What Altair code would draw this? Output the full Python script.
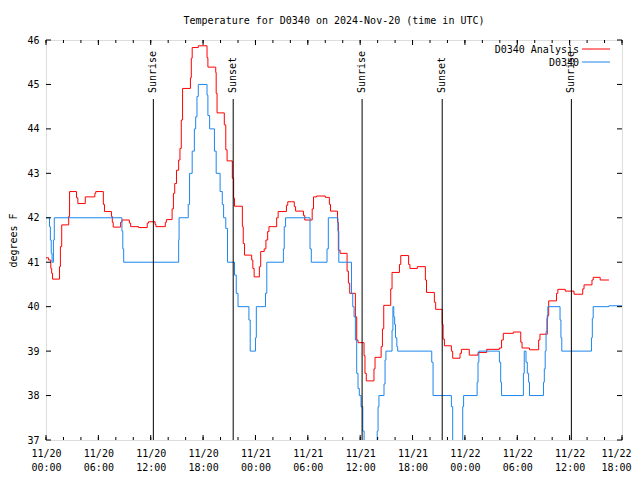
import altair as alt
import pandas as pd

# ---- data (hours after 2024-11-20 00:00 UTC, step values) ----
red_hours = [0.0, 0.3, 0.55, 0.65, 0.75, 1.55, 1.65, 1.8, 2.6, 2.7, 3.5, 3.65, 4.5, 5.6, 5.7,
             6.57, 6.7, 7.5, 7.6, 7.7, 8.55, 8.7, 9.55, 9.7, 10.6, 11.6, 11.75, 12.5, 12.6,
             13.67, 13.8, 14.45, 14.6, 14.75, 14.95, 15.2, 15.35, 15.5, 15.65, 16.55, 16.65,
             16.75, 17.45, 18.45, 18.55, 19.45, 19.5, 19.6, 20.43, 20.6, 20.75, 21.35, 21.5,
             21.6, 22.5, 22.6, 22.75, 23.57, 23.7, 23.85, 24.45, 24.6, 25.0, 25.2, 25.4, 25.55,
             26.43, 26.6, 27.55, 27.7, 28.45, 28.6, 29.5, 29.65, 30.5, 30.65, 31.0, 32.0, 32.47,
             32.6, 33.4, 33.5, 33.7, 34.5, 34.65, 34.8, 35.45, 35.6, 35.75, 36.44, 36.55, 36.7,
             37.58, 37.7, 38.4, 38.55, 38.7, 39.5, 39.65, 40.5, 40.65, 41.55, 41.7, 42.55, 43.47,
             43.6, 44.5, 44.65, 45.4, 45.5, 45.65, 46.45, 46.6, 47.44, 47.6, 48.5, 49.5, 50.5,
             51.95, 52.2, 52.4, 53.55, 54.4, 54.55, 55.4, 56.45, 56.6, 57.44, 57.6, 58.5, 58.65,
             59.5, 60.5, 61.5, 61.65, 62.56, 62.7, 63.5, 64.5]
red_temps = [41.1, 41.05, 40.86, 40.75, 40.62, 40.9, 41.35, 41.84, 42.03, 42.59, 42.45, 42.32,
             42.47, 42.55, 42.59, 42.3, 42.14, 42.03, 41.9, 41.79, 41.9, 41.95, 41.88, 41.8,
             41.78, 41.88, 41.91, 41.85, 41.8, 41.9, 41.96, 42.2, 42.55, 42.77, 43.07, 43.3,
             43.56, 44.2, 44.91, 45.15, 45.59, 45.83, 45.87, 45.6, 45.39, 45.27, 44.8, 44.36,
             44.09, 43.53, 43.28, 42.89, 42.44, 42.26, 41.8, 41.42, 41.16, 41.05, 40.86, 40.67,
             40.9, 41.24, 41.3, 41.5, 41.69, 41.8, 42.0, 42.14, 42.28, 42.36, 42.25, 42.15,
             42.05, 41.95, 42.2, 42.47, 42.49, 42.46, 42.3, 42.15, 41.9, 41.27, 41.2, 40.8,
             40.53, 40.3, 39.77, 39.25, 39.19, 38.9, 38.5, 38.33, 38.6, 38.86, 39.1, 39.5,
             40.03, 40.4, 40.77, 40.95, 41.15, 40.95, 40.86, 40.9, 40.6, 40.32, 40.1, 39.94,
             39.6, 39.27, 39.12, 39.0, 38.84, 38.95, 39.04, 38.91, 38.97, 39.04, 39.07, 39.25,
             39.4, 39.43, 39.2, 39.07, 39.03, 39.25, 39.38, 39.8, 40.13, 40.3, 40.39, 40.35,
             40.28, 40.4, 40.49, 40.6, 40.66, 40.6, 40.6]

blue_hours = [0.0, 0.4, 0.5, 0.6, 0.7, 0.85, 0.95, 8.7, 8.8, 8.9, 15.2, 15.25, 16.3, 16.45,
              16.75, 17.0, 17.15, 17.3, 17.45, 18.45, 18.55, 18.75, 19.3, 19.5, 19.95, 20.2,
              20.35, 20.6, 20.8, 21.6, 21.8, 22.0, 23.25, 23.4, 24.0, 24.1, 25.15, 25.3, 27.2,
              27.3, 27.45, 30.25, 30.4, 32.2, 32.35, 33.45, 33.55, 35.0, 35.15, 35.3, 35.45,
              35.6, 35.75, 35.9, 36.1, 36.3, 36.45, 37.95, 38.05, 38.15, 38.73, 38.85, 38.95,
              39.65, 39.75, 39.85, 39.95, 40.05, 40.2, 40.3, 44.2, 44.35, 46.45, 46.6, 47.75,
              47.85, 49.4, 49.5, 49.6, 51.95, 52.1, 52.2, 54.7, 54.8, 55.0, 55.15, 55.3, 55.4,
              57.0, 57.1, 57.2, 57.3, 57.4, 57.5, 58.9, 59.0, 59.1, 62.5, 62.6, 62.7, 64.5, 66.0]
blue_temps = [42.0, 41.8, 41.5, 41.2, 41.0, 41.5, 42.0, 41.7, 41.3, 41.0, 41.5, 42.0, 42.3, 43.0,
              43.5, 44.0, 44.27, 44.73, 45.0, 44.76, 44.3, 44.0, 43.5, 43.0, 42.59, 42.3, 42.0,
              41.76, 41.0, 40.71, 40.3, 40.0, 39.7, 39.0, 39.3, 40.0, 40.3, 41.0, 41.3, 41.8,
              42.0, 41.3, 41.0, 41.3, 42.0, 41.7, 41.0, 40.3, 40.0, 39.77, 39.25, 38.5, 38.16,
              38.0, 37.75, 37.2, 36.5, 37.2, 37.75, 38.0, 38.26, 38.8, 39.0, 39.47, 40.0, 39.77,
              39.6, 39.3, 39.1, 39.0, 38.75, 38.0, 37.75, 36.5, 37.75, 38.0, 38.3, 38.75, 39.0,
              38.75, 38.3, 38.0, 38.5, 39.0, 38.75, 38.5, 38.3, 38.0, 38.3, 38.6, 39.0, 39.44,
              39.74, 40.0, 39.7, 39.3, 39.0, 39.3, 39.74, 40.0, 40.02, 40.02]

event_hours = [12.3, 21.45, 36.22, 45.4, 60.2]
event_labels = ["Sunrise", "Sunset", "Sunrise", "Sunset", "Sunrise"]

series_names = ["D0340 Analysis", "D0340"]
series_colors = ["#ff0000", "#1c86ee"]

major_tick_hours = [0, 6, 12, 18, 24, 30, 36, 42, 48, 54, 60, 66]
minor_tick_hours = list(range(0, 67, 2))
y_ticks = [37, 38, 39, 40, 41, 42, 43, 44, 45, 46]

# ---- build ----
W, H = 576, 400
FONT = "DejaVu Sans Mono"
BASE = int(pd.Timestamp("2024-11-20T00:00:00Z").timestamp() * 1000)
HR = 3600000
END = BASE + 66 * HR


def ms(hs):
    return [BASE + h * HR for h in hs]


xscale = alt.Scale(type="utc", domain=[BASE, END])
yscale = alt.Scale(domain=[37, 46], nice=False, zero=False)

df_red = pd.DataFrame({"t": ms(red_hours), "temp": red_temps})
df_blue = pd.DataFrame({"t": ms(blue_hours), "temp": blue_temps})

xaxis = alt.Axis(values=ms(major_tick_hours), title=None, ticks=False, grid=False, domain=False,
                 labelExpr="[utcFormat(datum.value, '%m/%d'), utcFormat(datum.value, '%H:%M')]",
                 labelFont=FONT, labelFontSize=10, labelColor="black", labelPadding=8,
                 labelLineHeight=14, labelOverlap=False, labelFlush=False, labelBound=False,
                 labelOffset={"condition": {"test": f"datum.value >= {END - 1000}", "value": -6},
                              "value": 0})
yaxis = alt.Axis(values=y_ticks, title="degrees F", ticks=False, grid=False, domain=False,
                 labelFont=FONT, labelFontSize=10, labelColor="black", labelPadding=7,
                 labelFlush=False, titleFont=FONT, titleFontSize=10, titleFontWeight="normal",
                 titleColor="black", titlePadding=8)

X = alt.X("t:T", scale=xscale)

red = alt.Chart(df_red).mark_line(interpolate="step-after", color=series_colors[0],
                                  strokeWidth=1, clip=True).encode(
    x=alt.X("t:T", scale=xscale, axis=xaxis),
    y=alt.Y("temp:Q", scale=yscale, axis=yaxis))
blue = alt.Chart(df_blue).mark_line(interpolate="step-after", color=series_colors[1],
                                    strokeWidth=1, clip=True).encode(
    x=X, y=alt.Y("temp:Q", scale=yscale))

df_ev = pd.DataFrame({"t": ms(event_hours), "label": event_labels})
ev_rule = alt.Chart(df_ev).mark_rule(color="black", strokeWidth=1).encode(
    x=X, y=alt.value(59), y2=alt.value(H))
ev_text = alt.Chart(df_ev).mark_text(angle=270, align="left", baseline="middle", font=FONT,
                                     fontSize=10, color="black").encode(
    x=X, y=alt.value(53), text="label:N")

df_minor = pd.DataFrame({"t": ms(minor_tick_hours)})
df_major = pd.DataFrame({"t": ms(major_tick_hours)})
df_y = pd.DataFrame({"temp": y_ticks})
tick_layers = []
for d, ln in [(df_minor, 3), (df_major, 5)]:
    for y0, y1 in [(H, H - ln), (0, ln)]:
        tick_layers.append(alt.Chart(d).mark_rule(color="black", strokeWidth=1).encode(
            x=X, y=alt.value(y0), y2=alt.value(y1)))
for x0, x1 in [(0, 5), (W, W - 5)]:
    tick_layers.append(alt.Chart(df_y).mark_rule(color="black", strokeWidth=1).encode(
        y=alt.Y("temp:Q", scale=yscale), x=alt.value(x0), x2=alt.value(x1)))

legend_layers = []
for i, (nm, col) in enumerate(zip(series_names, series_colors)):
    d = pd.DataFrame({"name": [nm]})
    yy = 10 + 13 * i
    legend_layers.append(alt.Chart(d).mark_text(align="right", baseline="middle", font=FONT,
                                                fontSize=10, color="black").encode(
        text="name:N", x=alt.value(533), y=alt.value(yy)))
    legend_layers.append(alt.Chart(d).mark_rule(color=col, strokeWidth=1).encode(
        x=alt.value(536), x2=alt.value(564), y=alt.value(yy - 1)))

chart = alt.layer(red, blue, ev_rule, ev_text, *tick_layers, *legend_layers).properties(
    width=W, height=H,
    title=alt.TitleParams("Temperature for D0340 on 2024-Nov-20 (time in UTC)", font=FONT,
                          fontSize=10, fontWeight="normal", color="black", anchor="middle",
                          offset=9),
    autosize=alt.AutoSizeParams(type="none"),
    padding={"left": 38, "top": 32, "right": 10, "bottom": 32},
).configure_view(stroke="black", strokeWidth=1).configure(background="white")

chart.save("out.html", embed_options={"renderer": "svg", "actions": False})
